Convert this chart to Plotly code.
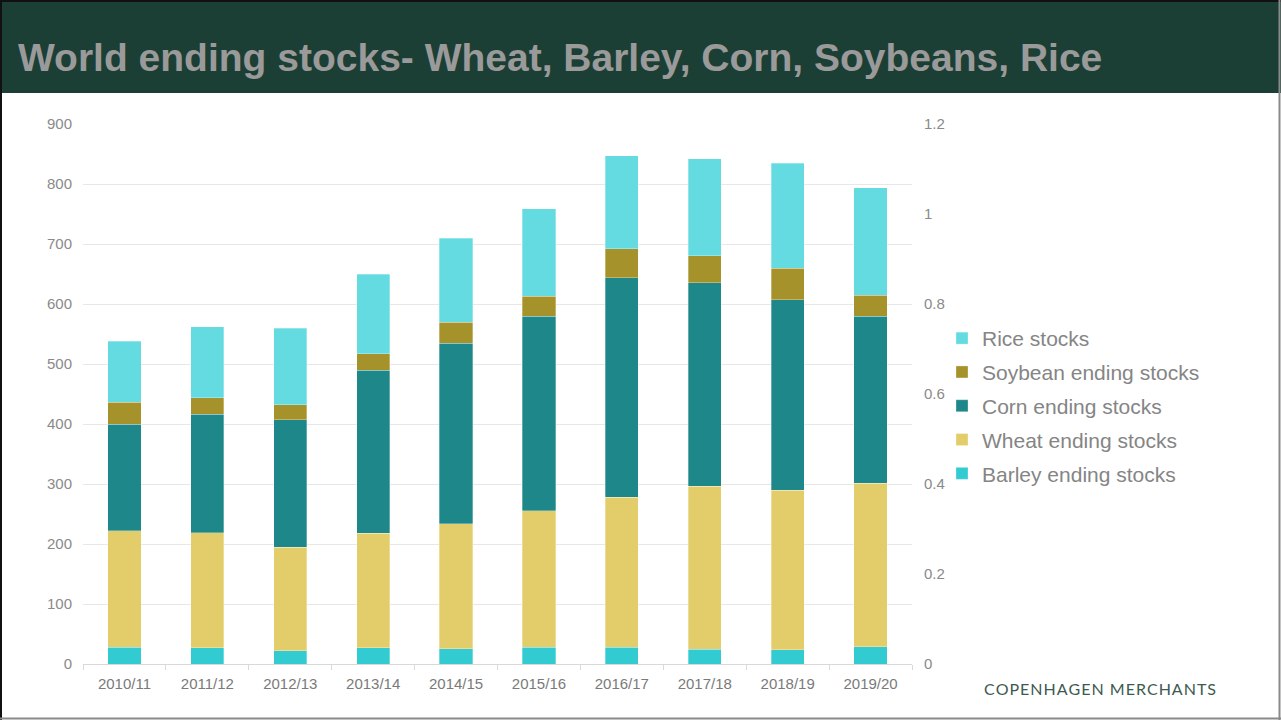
import plotly.graph_objects as go

# Marketing years and world ending stocks (million tonnes)
years = ["2010/11", "2011/12", "2012/13", "2013/14", "2014/15",
         "2015/16", "2016/17", "2017/18", "2018/19", "2019/20"]
barley = [28, 27, 22, 27, 25.5, 28, 28, 25, 24, 29]
wheat = [194, 192, 172.5, 191, 208.5, 227.5, 250, 271, 266, 272]
corn = [178, 197, 212.5, 272, 301, 324.5, 366, 339.5, 317, 279]
soybean = [36, 28, 25, 27, 35, 33, 48, 45, 53, 35]
rice = [102, 118, 128, 133, 140, 146, 155, 162, 175, 179]

# (legend label, values, colour, legend rank) - stacked bottom to top
series = [
    ("Barley ending stocks", barley, "#33cbd2", 5),
    ("Wheat ending stocks", wheat, "#e2cd6a", 4),
    ("Corn ending stocks", corn, "#1e8789", 3),
    ("Soybean ending stocks", soybean, "#a6922a", 2),
    ("Rice stocks", rice, "#63dbe0", 1),
]

W, H = 1281, 720
L, R, T, B = 83, 912, 124, 664  # plot area in pixels


def px(x):
    return (x - L) / (R - L)


def py(y):
    return (B - y) / (B - T)


fig = go.Figure()
for name, vals, color, rank in series:
    fig.add_trace(go.Bar(
        x=years, y=vals, name=name, legendgroup=name, legendrank=rank,
        marker=dict(color=color, line=dict(color="rgba(255,255,255,0.5)", width=0.6)),
    ))

# secondary (right) scale, carries no marks
fig.add_trace(go.Scatter(x=[], y=[], yaxis="y2", showlegend=False, hoverinfo="skip"))

fig.update_layout(
    width=W, height=H,
    margin=dict(l=L, r=W - R, t=T, b=H - B),
    paper_bgcolor="white", plot_bgcolor="white",
    barmode="stack", bargap=0.6,
    font=dict(family="Liberation Sans, Arial, sans-serif", color="#888888"),
    showlegend=True,
    legend=dict(
        x=px(942), xanchor="left", y=py(406), yanchor="middle",
        traceorder="grouped", tracegroupgap=3.5, itemwidth=30,
        font=dict(size=21, color="#858585"),
        bgcolor="rgba(0,0,0,0)",
    ),
    xaxis=dict(
        type="category", tickson="boundaries", ticks="outside", ticklen=5,
        tickcolor="#d9d9d9", showline=True, linecolor="#d9d9d9", linewidth=1,
        tickfont=dict(size=15, color="#7a7a7a"), showgrid=False,
        ticklabelstandoff=6,
    ),
    yaxis=dict(
        range=[0, 900], dtick=100, showgrid=True, gridcolor="#e8e8e8",
        zeroline=False, tickfont=dict(size=15, color="#8a8a8a"),
        ticklabelstandoff=10,
    ),
    yaxis2=dict(
        overlaying="y", side="right", range=[0, 1.2], dtick=0.2,
        showgrid=False, zeroline=False, showline=False,
        tickfont=dict(size=15, color="#8a8a8a"), ticklabelstandoff=11,
    ),
)

# Title band and frame
fig.add_shape(type="rect", xref="paper", yref="paper",
              x0=px(0), x1=px(W), y0=py(93), y1=py(0),
              fillcolor="#1c3f35", line=dict(width=0), layer="below")
fig.add_shape(type="line", xref="paper", yref="paper",
              x0=px(1), x1=px(1), y0=py(0), y1=py(H), line=dict(color="#111111", width=2))
fig.add_shape(type="line", xref="paper", yref="paper",
              x0=px(0), x1=px(W), y0=py(1), y1=py(1), line=dict(color="#111111", width=2))
fig.add_shape(type="line", xref="paper", yref="paper",
              x0=px(0), x1=px(W), y0=py(H - 1.5), y1=py(H - 1.5), line=dict(color="#8a8a8a", width=2))
fig.add_shape(type="line", xref="paper", yref="paper",
              x0=px(W - 1.5), x1=px(W - 1.5), y0=py(0), y1=py(H), line=dict(color="#8a8a8a", width=2))

fig.add_annotation(
    text="<b>World ending stocks- Wheat, Barley, Corn, Soybeans, Rice</b>",
    xref="paper", yref="paper", x=px(16), y=py(57), xanchor="left", yanchor="middle",
    showarrow=False, font=dict(size=39, color="#9a9a9a", family="Liberation Sans, Arial, sans-serif"),
)
fig.add_annotation(
    text="\u200a".join("COPENHAGEN MERCHANTS"),
    xref="paper", yref="paper", x=px(1100), y=py(688), xanchor="center", yanchor="middle",
    showarrow=False, font=dict(size=16, color="#3d5a50", family="Lato, sans-serif"),
)

fig.write_html("out.html")
